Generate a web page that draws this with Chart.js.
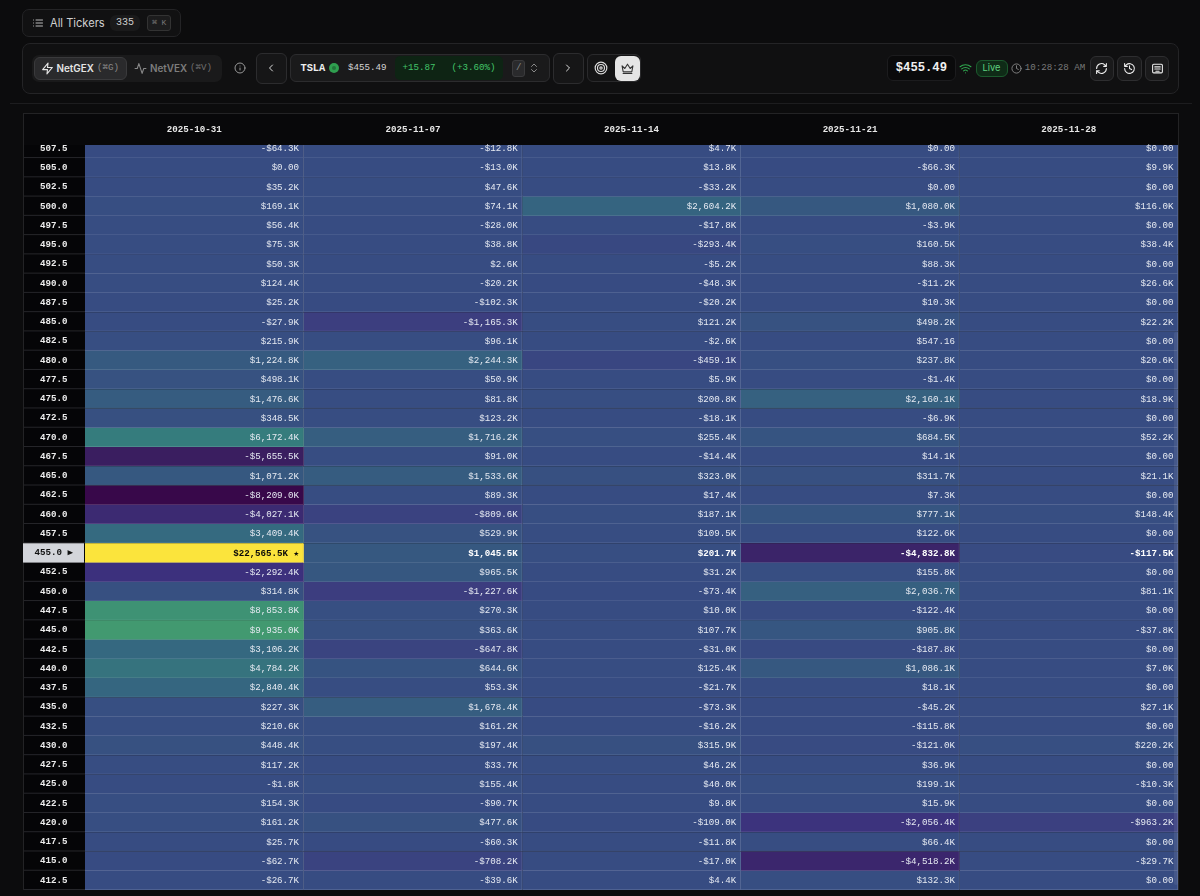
<!DOCTYPE html>
<html>
<head>
<meta charset="utf-8">
<title>TSLA NetGEX</title>
<script src="https://cdn.jsdelivr.net/npm/chart.js@4/dist/chart.umd.min.js"></script>
<style>
html,body{margin:0;padding:0;background:#0c0c0d;width:1200px;height:896px;overflow:hidden}
#chart{position:absolute;left:0;top:0}
.b{position:absolute;box-sizing:border-box;border:1px solid #242426;border-radius:6px}
.t{position:absolute;white-space:nowrap;font:9.17px/14px "Liberation Mono",monospace;color:#ddd}
.i{font-family:Inter,sans-serif}
.ic{position:absolute;fill:none;stroke:currentColor;stroke-width:2;stroke-linecap:round;stroke-linejoin:round}
</style>
</head>
<body>
<canvas id="chart" width="1200" height="896"></canvas>

<div class="b" style="left:22px;top:9px;width:159px;height:28px;background:#111112;border-radius:7px"></div>
<svg class="ic" style="left:32px;top:17px;color:#bbb" width="12" height="12" viewBox="0 0 24 24"><path d="M8 6h13M8 12h13M8 18h13M3 6h.01M3 12h.01M3 18h.01"/></svg>
<div class="t i" style="left:50px;top:16px;font-size:11.1px;color:#d0d0d0">All Tickers</div>
<div class="b" style="left:110px;top:15px;width:30px;height:16px;background:#1a1a1b;border:0"></div>
<div class="t" style="left:116px;top:16px;font-size:10px;color:#ccc">335</div>
<div class="b" style="left:147px;top:15px;width:24px;height:16px;background:#1c1c1d;border-color:#333;border-radius:3px"></div>
<div class="t" style="left:152px;top:16px;font-size:8px;color:#777">⌘ K</div>

<div class="b" style="left:22px;top:43px;width:1157px;height:51px;background:#101011;border-radius:8px"></div>
<div style="position:absolute;left:10px;top:103px;width:1182px;height:1px;background:#1d1d1f"></div>

<div class="b" style="left:32px;top:55px;width:190px;height:27px;background:#1a1a1b;border:0;border-radius:7px"></div>
<div class="b" style="left:34px;top:57px;width:93px;height:23px;background:#2a2a2c;border-color:#3a3a3c"></div>
<svg class="ic" style="left:41px;top:62px;color:#e5e5e5" width="13" height="13" viewBox="0 0 24 24"><path d="M13 2 3 14h9l-1 8 10-12h-9z"/></svg>
<div class="t i" style="left:56.5px;top:61px;font-weight:600;font-size:9.9px;color:#e5e5e5">NetGEX</div>
<div class="t" style="left:97px;top:61px;color:#8a8a8a">(⌘G)</div>
<svg class="ic" style="left:134px;top:62px;color:#8a8a8a" width="13" height="13" viewBox="0 0 24 24"><path d="M22 12h-4l-3 9L9 3l-3 9H2"/></svg>
<div class="t i" style="left:150px;top:61px;font-weight:600;font-size:9.9px;color:#7d7d7d">NetVEX</div>
<div class="t" style="left:190px;top:61px;color:#6f6f6f">(⌘V)</div>
<svg class="ic" style="left:234px;top:62px;color:#999" width="12" height="12" viewBox="0 0 24 24"><circle cx="12" cy="12" r="10"/><path d="M12 16v-4M12 8h.01"/></svg>

<div class="b" style="left:256px;top:53px;width:31px;height:31px;background:#161617;border-color:#2c2c2e"></div>
<svg class="ic" style="left:265px;top:62px;color:#ddd" width="12" height="12" viewBox="0 0 24 24"><path d="m15 18-6-6 6-6"/></svg>
<div class="b" style="left:290px;top:54px;width:260px;height:28px;background:#1a1a1b;border-color:#2c2c2e"></div>
<div class="t" style="left:300.4px;top:61px;font-weight:bold;font-size:10.4px;color:#eee">TSLA</div>
<div style="position:absolute;left:328.5px;top:63px;width:10px;height:10px;border-radius:50%;background:#2f9e4f"></div>
<div style="position:absolute;left:331.5px;top:66px;width:4px;height:4px;border-radius:50%;background:#22743a"></div>
<div class="t" style="left:348px;top:61px;color:#d5d5d5">$455.49</div>
<div class="b" style="left:395px;top:56px;width:108px;height:24px;background:#0e2414;border:0;border-radius:5px"></div>
<div class="t" style="left:402.5px;top:61px;color:#43c46a">+15.87</div>
<div class="t" style="left:451.5px;top:61px;color:#43c46a">(+3.60%)</div>
<div class="b" style="left:512px;top:60px;width:13px;height:17px;background:#2a2a2c;border-color:#3a3a3c;border-radius:3px"></div>
<div class="t" style="left:516px;top:61px;color:#888">/</div>
<svg class="ic" style="left:528px;top:62px;color:#888" width="12" height="12" viewBox="0 0 24 24"><path d="m7 15 5 5 5-5M7 9l5-5 5 5"/></svg>
<div class="b" style="left:553px;top:53px;width:31px;height:31px;background:#161617;border-color:#2c2c2e"></div>
<svg class="ic" style="left:562px;top:62px;color:#ddd" width="12" height="12" viewBox="0 0 24 24"><path d="m9 18 6-6-6-6"/></svg>
<div class="b" style="left:587px;top:54px;width:54px;height:28px;background:#141415;border-color:#2a2a2c"></div>
<svg class="ic" style="left:594px;top:61px;color:#ddd" width="14" height="14" viewBox="0 0 24 24"><circle cx="12" cy="12" r="10"/><circle cx="12" cy="12" r="6"/><circle cx="12" cy="12" r="2"/></svg>
<div class="b" style="left:615px;top:56px;width:25px;height:25px;background:#e5e5e5;border:0"></div>
<svg class="ic" style="left:621px;top:62px;color:#333" width="13" height="13" viewBox="0 0 24 24"><path d="m2 7 5 5 5-8 5 8 5-5-2 11H4zM4 21h16"/></svg>

<div class="b" style="left:887px;top:55px;width:69px;height:26px;background:#0a0a0b;border-color:#1c1c1e"></div>
<div class="t" style="left:895.8px;top:61px;font-weight:bold;font-size:12.2px;color:#f0f0f0">$455.49</div>
<svg class="ic" style="left:959px;top:62px;color:#2fa84f" width="13" height="13" viewBox="0 0 24 24"><path d="M2 8.8a15 15 0 0 1 20 0M5 12.9a10 10 0 0 1 14 0M8.5 16.4a5 5 0 0 1 7 0M12 20h.01"/></svg>
<div class="b" style="left:976px;top:60px;width:32px;height:17px;background:#0f2b17;border-color:#1c5a2e"></div>
<div class="t i" style="left:982.5px;top:61px;font-size:9.3px;color:#5fd080">Live</div>
<svg class="ic" style="left:1010.5px;top:62.5px;color:#888" width="11" height="11" viewBox="0 0 24 24"><circle cx="12" cy="12" r="10"/><path d="M12 6v6l4 2"/></svg>
<div class="t" style="left:1024.8px;top:61px;color:#7a7a7a">10:28:28 AM</div>
<div class="b" style="left:1089.5px;top:56px;width:24.5px;height:25px;background:#1a1a1b;border-color:#2e2e30"></div>
<svg class="ic" style="left:1095px;top:62px;color:#eee" width="13" height="13" viewBox="0 0 24 24"><path d="M3 12a9 9 0 0 1 15-6.7L21 8M21 3v5h-5M21 12a9 9 0 0 1-15 6.7L3 16M3 21v-5h5"/></svg>
<div class="b" style="left:1117px;top:56px;width:24.5px;height:25px;background:#1a1a1b;border-color:#2e2e30"></div>
<svg class="ic" style="left:1123px;top:62px;color:#eee" width="13" height="13" viewBox="0 0 24 24"><path d="M3 12a9 9 0 1 0 3-6.7L3 8M3 3v5h5M12 7v5l4 2"/></svg>
<div class="b" style="left:1144.5px;top:56px;width:24.5px;height:25px;background:#1a1a1b;border-color:#2e2e30"></div>
<svg class="ic" style="left:1150.5px;top:62px;color:#eee" width="13" height="13" viewBox="0 0 24 24"><rect x="3" y="4" width="18" height="16" rx="2"/><path d="M7 9h10M7 13h10M9 17h6"/></svg>

<div style="position:absolute;left:1173.5px;top:332px;width:4px;height:553px;background:rgba(255,255,255,.07);border-radius:2px"></div>

<script>
const expiries = ['2025-10-31','2025-11-07','2025-11-14','2025-11-21','2025-11-28'];
const strikes = [507.5,505,502.5,500,497.5,495,492.5,490,487.5,485,482.5,480,477.5,475,472.5,470,467.5,465,462.5,460,457.5,455,452.5,450,447.5,445,442.5,440,437.5,435,432.5,430,427.5,425,422.5,420,417.5,415,412.5];
const spotStrike = 455;

// net gex per strike, in $K
const gex1031 = [-64.3,0,35.2,169.1,56.4,75.3,50.3,124.4,25.2,-27.9,215.9,1224.8,498.1,1476.6,348.5,6172.4,-5655.5,1071.2,-8209.0,-4027.1,3409.4,22565.5,-2292.4,314.8,8853.8,9935.0,3106.2,4784.2,2840.4,227.3,210.6,448.4,117.2,-1.8,154.3,161.2,25.7,-62.7,-26.7];
const gex1107 = [-12.8,-13.0,47.6,74.1,-28.0,38.8,2.6,-20.2,-102.3,-1165.3,96.1,2244.3,50.9,81.8,123.2,1716.2,91.0,1533.6,89.3,-809.6,529.9,1045.5,965.5,-1227.6,270.3,363.6,-647.8,644.6,53.3,1678.4,161.2,197.4,33.7,155.4,-90.7,477.6,-60.3,-708.2,-39.6];
const gex1114 = [4.7,13.8,-33.2,2604.2,-17.8,-293.4,-5.2,-48.3,-20.2,121.2,-2.6,-459.1,5.9,200.8,-18.1,255.4,-14.4,323.0,17.4,187.1,109.5,201.7,31.2,-73.4,10.0,107.7,-31.0,125.4,-21.7,-73.3,-16.2,315.9,46.2,40.0,9.8,-109.0,-11.8,-17.0,4.4];
const gex1121 = [0,-66.3,0,1080.0,-3.9,160.5,88.3,-11.2,10.3,498.2,0.54716,237.8,-1.4,2160.1,-6.9,684.5,14.1,311.7,7.3,777.1,122.6,-4832.8,155.8,2036.7,-122.4,905.8,-187.8,1086.1,18.1,-45.2,-115.8,-121.0,36.9,199.1,15.9,-2056.4,66.4,-4518.2,132.3];
const gex1128 = [0,9.9,0,116.0,0,38.4,0,26.6,0,22.2,0,20.6,0,18.9,0,52.2,0,21.1,0,148.4,0,-117.5,0,81.1,0,-37.8,0,7.0,0,27.1,0,220.2,0,-10.3,0,-963.2,0,-29.7,0];
const columns = [gex1031,gex1107,gex1114,gex1121,gex1128];

// colour ramp: value, r, g, b
const ramp = [
  [-8209,56,8,74],[-5655,58,30,96],[-4027,60,42,114],[-2292,60,48,125],[-1165,60,62,127],
  [0,55,76,130],[1224,54,90,128],[3409,53,106,128],[4784,54,115,126],[6172,53,124,125],
  [8853,62,146,116],[9935,66,153,112],[22565,251,228,60]
];

function cellRgb(v){
  for(let i=1;i<ramp.length;i++){
    if(v<=ramp[i][0]){
      const a=ramp[i-1],b=ramp[i],t=(v-a[0])/(b[0]-a[0]);
      return [1,2,3].map(k=>Math.round(a[k]+(b[k]-a[k])*t));
    }
  }
  return ramp[ramp.length-1].slice(1);
}
function cellColor(v){
  const c=cellRgb(v);
  return `rgb(${c[0]},${c[1]},${c[2]})`;
}
function cellBorder(v){
  const c=cellRgb(v).map(x=>Math.round(x+(255-x)*.16));
  return `rgb(${c[0]},${c[1]},${c[2]})`;
}
function fmt(v){
  if(v===0) return '$0.00';
  const a=Math.abs(v),s=v<0?'-':'';
  if(a<1) return s+'$'+(a*1000).toFixed(2);
  return s+'$'+a.toLocaleString('en-US',{minimumFractionDigits:1,maximumFractionDigits:1})+'K';
}

const MONO='"Liberation Mono", monospace';
const FS=9.17;
const maxGex=Math.max(...columns.flat());

const tablePlugin={
  id:'tablePlugin',
  beforeDraw(chart){
    const {ctx,chartArea:a,scales:{y}}=chart;
    const half=Math.abs(y.getPixelForValue(strikes[1])-y.getPixelForValue(strikes[0]))/2;
    ctx.save();
    ctx.fillStyle='#08080a';
    ctx.fillRect(23,113,a.right-23,a.top-113);
    ctx.fillStyle='#050507';
    ctx.fillRect(23,a.top,a.left-23,a.bottom-a.top);
    ctx.fillStyle='#232325';
    ctx.fillRect(23,113,a.right-23,1);
    ctx.fillRect(1178,113,1,a.bottom-113);
    ctx.fillRect(23,113,1,a.bottom-113);
    ctx.fillStyle='#26262a';
    strikes.forEach(s=>{
      ctx.fillRect(24,y.getPixelForValue(s)+half-1,a.left-24,1);
    });
    const py=y.getPixelForValue(spotStrike);
    ctx.fillStyle='#d3d5da';
    ctx.fillRect(23,py-half,a.left-24,half*2);
    ctx.restore();
  },
  afterDatasetsDraw(chart){
    const {ctx,scales:{x,y}}=chart;
    ctx.save();
    ctx.textAlign='right';
    ctx.textBaseline='middle';
    columns.forEach((col,c)=>{
      const right=x.getPixelForValue(c+1)-4.5;
      col.forEach((v,r)=>{
        const top=v===maxGex,spot=strikes[r]===spotStrike;
        ctx.font=(spot?'bold ':'')+FS+'px '+MONO;
        ctx.fillStyle=top?'#0a0a0a':spot?'#ffffff':'#e6eaf2';
        ctx.fillText(fmt(v)+(top?' ★':''),right,y.getPixelForValue(strikes[r])+.3);
      });
    });
    ctx.restore();
  }
};

new Chart(document.getElementById('chart'),{
  type:'bar',
  plugins:[tablePlugin],
  data:{
    datasets:columns.map((col,c)=>({
      label:expiries[c],
      data:col.map((v,r)=>({x:[c,c+1],y:strikes[r],v})),
      backgroundColor:ctx=>cellColor(ctx.raw.v),
      borderColor:ctx=>cellBorder(ctx.raw.v),
      borderWidth:{right:1,bottom:1},
      borderSkipped:false,
      grouped:false,
      barPercentage:1,
      categoryPercentage:1
    }))
  },
  options:{
    indexAxis:'y',
    responsive:false,
    animation:false,
    events:[],
    layout:{autoPadding:false,padding:{left:24,top:113,right:22,bottom:6}},
    plugins:{legend:{display:false},tooltip:{enabled:false}},
    scales:{
      x:{
        type:'linear',
        position:'top',
        min:0,
        max:expiries.length,
        afterBuildTicks:s=>{s.ticks=expiries.map((d,i)=>({value:i+.5}))},
        afterFit:s=>{s.height=32;s.paddingLeft=0;s.paddingRight=0},
        grid:{display:false,drawTicks:false},
        border:{display:false},
        ticks:{
          autoSkip:false,
          maxRotation:0,
          padding:10,
          color:'#e8e8e8',
          font:{family:MONO,size:FS,weight:'bold'},
          callback:v=>expiries[v-.5]
        }
      },
      y:{
        type:'linear',
        offset:false,
        min:411.25,
        max:507.945,
        afterBuildTicks:s=>{s.ticks=strikes.map(v=>({value:v}))},
        // the axis asks for room for its end labels, the cells run right to the edge here
        afterFit:s=>{s.width=61;s.paddingTop=0;s.paddingBottom=0},
        grid:{display:false,drawTicks:false},
        border:{display:false},
        ticks:{
          autoSkip:false,
          crossAlign:'center',
          padding:12,
          color:ctx=>ctx.tick.value===spotStrike?'#111':'#ececec',
          font:{family:MONO,size:FS,weight:'bold'},
          callback:v=>v===spotStrike?v.toFixed(1)+' ▶':v.toFixed(1)
        }
      }
    }
  }
});
</script>
</body>
</html>
